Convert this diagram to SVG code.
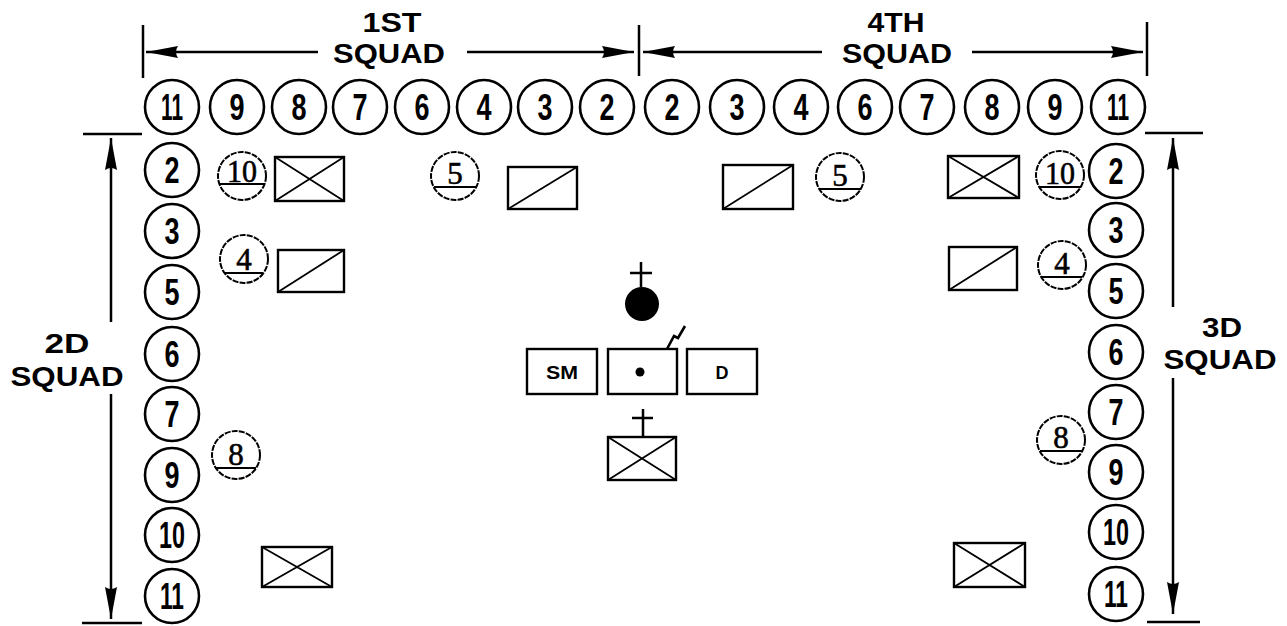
<svg xmlns="http://www.w3.org/2000/svg" width="1287" height="626" viewBox="0 0 1287 626">
<style>
.c{fill:#fff;stroke:#000;stroke-width:2.6}
.n{font-family:'Liberation Sans',Arial,sans-serif;font-weight:bold;font-size:36px;text-anchor:middle;fill:#000}
.dc{fill:#fff;stroke:#000;stroke-width:2;stroke-dasharray:6 1.2}
.s{font-family:'Liberation Serif','Times New Roman',serif;font-size:31px;text-anchor:middle;fill:#000;stroke:#000;stroke-width:0.6}
.u{stroke:#000;stroke-width:2.2}
.bx{fill:#fff;stroke:#000;stroke-width:2.4}
.d{stroke:#000;stroke-width:1.8;fill:none}
.lbl{font-family:'Liberation Sans',Arial,sans-serif;font-weight:bold;font-size:27px;text-anchor:middle;fill:#000}
.ln{stroke:#000;stroke-width:2.5;fill:none}
.sm{font-family:'Liberation Sans',Arial,sans-serif;font-weight:bold;font-size:18px;text-anchor:middle;fill:#000}
</style>
<defs>
<marker id="ah" markerUnits="userSpaceOnUse" markerWidth="34" markerHeight="14" refX="32" refY="7" orient="auto">
<path d="M0,1 L32,7 L0,13 Q4,7 0,1 z" fill="#000"/>
</marker>
</defs>
<rect width="1287" height="626" fill="#fff"/>

<g id="connectors">
<line class="ln" x1="143" y1="25" x2="143" y2="78"/>
<line class="ln" x1="639" y1="25" x2="639" y2="76"/>
<line class="ln" x1="1147" y1="22" x2="1147" y2="76"/>
<line class="ln" x1="318" y1="52" x2="146" y2="52" marker-end="url(#ah)"/>
<line class="ln" x1="467" y1="52" x2="634" y2="52" marker-end="url(#ah)"/>
<line class="ln" x1="822" y1="52" x2="643" y2="52" marker-end="url(#ah)"/>
<line class="ln" x1="972" y1="52" x2="1143" y2="52" marker-end="url(#ah)"/>
<line class="ln" x1="83" y1="134" x2="142" y2="134"/>
<line class="ln" x1="82" y1="623" x2="142" y2="623"/>
<line class="ln" x1="111" y1="322" x2="111" y2="138" marker-end="url(#ah)"/>
<line class="ln" x1="111" y1="394" x2="111" y2="619" marker-end="url(#ah)"/>
<line class="ln" x1="1145" y1="133" x2="1203" y2="133"/>
<line class="ln" x1="1147" y1="622" x2="1200" y2="622"/>
<line class="ln" x1="1173" y1="307" x2="1173" y2="138" marker-end="url(#ah)"/>
<line class="ln" x1="1173" y1="378" x2="1173" y2="614" marker-end="url(#ah)"/>
</g>

<g id="labels">
<text class="lbl" x="392" y="32" textLength="59" lengthAdjust="spacingAndGlyphs">1ST</text>
<text class="lbl" x="389" y="63" textLength="112" lengthAdjust="spacingAndGlyphs">SQUAD</text>
<text class="lbl" x="896" y="32" textLength="57" lengthAdjust="spacingAndGlyphs">4TH</text>
<text class="lbl" x="897" y="63" textLength="110" lengthAdjust="spacingAndGlyphs">SQUAD</text>
<text class="lbl" x="67" y="353" textLength="45" lengthAdjust="spacingAndGlyphs">2D</text>
<text class="lbl" x="67" y="386" textLength="113" lengthAdjust="spacingAndGlyphs">SQUAD</text>
<text class="lbl" x="1222" y="337" textLength="40" lengthAdjust="spacingAndGlyphs">3D</text>
<text class="lbl" x="1220" y="369" textLength="113" lengthAdjust="spacingAndGlyphs">SQUAD</text>
</g>

<g id="sq1-11"><circle class="c" cx="172" cy="107" r="27"/><text class="n" x="172" y="120" textLength="22" lengthAdjust="spacingAndGlyphs">11</text></g>
<g id="sq1-9"><circle class="c" cx="237" cy="107" r="27"/><text class="n" x="237" y="120" textLength="15" lengthAdjust="spacingAndGlyphs">9</text></g>
<g id="sq1-8"><circle class="c" cx="299" cy="107" r="27"/><text class="n" x="299" y="120" textLength="15" lengthAdjust="spacingAndGlyphs">8</text></g>
<g id="sq1-7"><circle class="c" cx="360" cy="107" r="27"/><text class="n" x="360" y="120" textLength="15" lengthAdjust="spacingAndGlyphs">7</text></g>
<g id="sq1-6"><circle class="c" cx="422" cy="107" r="27"/><text class="n" x="422" y="120" textLength="15" lengthAdjust="spacingAndGlyphs">6</text></g>
<g id="sq1-4"><circle class="c" cx="484" cy="107" r="27"/><text class="n" x="484" y="120" textLength="15" lengthAdjust="spacingAndGlyphs">4</text></g>
<g id="sq1-3"><circle class="c" cx="545" cy="107" r="27"/><text class="n" x="545" y="120" textLength="15" lengthAdjust="spacingAndGlyphs">3</text></g>
<g id="sq1-2"><circle class="c" cx="607" cy="107" r="27"/><text class="n" x="607" y="120" textLength="15" lengthAdjust="spacingAndGlyphs">2</text></g>

<g id="sq4-2"><circle class="c" cx="672" cy="107" r="27"/><text class="n" x="672" y="120" textLength="15" lengthAdjust="spacingAndGlyphs">2</text></g>
<g id="sq4-3"><circle class="c" cx="737" cy="107" r="27"/><text class="n" x="737" y="120" textLength="15" lengthAdjust="spacingAndGlyphs">3</text></g>
<g id="sq4-4"><circle class="c" cx="801" cy="107" r="27"/><text class="n" x="801" y="120" textLength="15" lengthAdjust="spacingAndGlyphs">4</text></g>
<g id="sq4-6"><circle class="c" cx="865" cy="107" r="27"/><text class="n" x="865" y="120" textLength="15" lengthAdjust="spacingAndGlyphs">6</text></g>
<g id="sq4-7"><circle class="c" cx="927" cy="107" r="27"/><text class="n" x="927" y="120" textLength="15" lengthAdjust="spacingAndGlyphs">7</text></g>
<g id="sq4-8"><circle class="c" cx="992" cy="107" r="27"/><text class="n" x="992" y="120" textLength="15" lengthAdjust="spacingAndGlyphs">8</text></g>
<g id="sq4-9"><circle class="c" cx="1055" cy="107" r="27"/><text class="n" x="1055" y="120" textLength="15" lengthAdjust="spacingAndGlyphs">9</text></g>
<g id="sq4-11"><circle class="c" cx="1118" cy="107" r="27"/><text class="n" x="1118" y="120" textLength="22" lengthAdjust="spacingAndGlyphs">11</text></g>

<g id="sq2-2"><circle class="c" cx="172" cy="170" r="27"/><text class="n" x="172" y="183" textLength="15" lengthAdjust="spacingAndGlyphs">2</text></g>
<g id="sq2-3"><circle class="c" cx="172" cy="231" r="27"/><text class="n" x="172" y="244" textLength="15" lengthAdjust="spacingAndGlyphs">3</text></g>
<g id="sq2-5"><circle class="c" cx="172" cy="292" r="27"/><text class="n" x="172" y="305" textLength="15" lengthAdjust="spacingAndGlyphs">5</text></g>
<g id="sq2-6"><circle class="c" cx="172" cy="354" r="27"/><text class="n" x="172" y="367" textLength="15" lengthAdjust="spacingAndGlyphs">6</text></g>
<g id="sq2-7"><circle class="c" cx="172" cy="414" r="27"/><text class="n" x="172" y="427" textLength="15" lengthAdjust="spacingAndGlyphs">7</text></g>
<g id="sq2-9"><circle class="c" cx="172" cy="475" r="27"/><text class="n" x="172" y="488" textLength="15" lengthAdjust="spacingAndGlyphs">9</text></g>
<g id="sq2-10"><circle class="c" cx="172" cy="535" r="27"/><text class="n" x="172" y="548" textLength="26" lengthAdjust="spacingAndGlyphs">10</text></g>
<g id="sq2-11"><circle class="c" cx="172" cy="596" r="27"/><text class="n" x="172" y="609" textLength="24" lengthAdjust="spacingAndGlyphs">11</text></g>

<g id="sq3-2"><circle class="c" cx="1116" cy="171" r="27"/><text class="n" x="1116" y="184" textLength="15" lengthAdjust="spacingAndGlyphs">2</text></g>
<g id="sq3-3"><circle class="c" cx="1116" cy="230" r="27"/><text class="n" x="1116" y="243" textLength="15" lengthAdjust="spacingAndGlyphs">3</text></g>
<g id="sq3-5"><circle class="c" cx="1116" cy="291" r="27"/><text class="n" x="1116" y="304" textLength="15" lengthAdjust="spacingAndGlyphs">5</text></g>
<g id="sq3-6"><circle class="c" cx="1116" cy="352" r="27"/><text class="n" x="1116" y="365" textLength="15" lengthAdjust="spacingAndGlyphs">6</text></g>
<g id="sq3-7"><circle class="c" cx="1116" cy="412" r="27"/><text class="n" x="1116" y="425" textLength="15" lengthAdjust="spacingAndGlyphs">7</text></g>
<g id="sq3-9"><circle class="c" cx="1116" cy="472" r="27"/><text class="n" x="1116" y="485" textLength="15" lengthAdjust="spacingAndGlyphs">9</text></g>
<g id="sq3-10"><circle class="c" cx="1116" cy="532" r="27"/><text class="n" x="1116" y="545" textLength="26" lengthAdjust="spacingAndGlyphs">10</text></g>
<g id="sq3-11"><circle class="c" cx="1116" cy="594" r="27"/><text class="n" x="1116" y="607" textLength="24" lengthAdjust="spacingAndGlyphs">11</text></g>

<g id="pos-l10"><circle class="dc" cx="242" cy="176" r="24"/><text class="s" x="242" y="182" textLength="30" lengthAdjust="spacingAndGlyphs">10</text><line class="u" x1="219" y1="184" x2="265" y2="184"/></g>
<g id="pos-l5"><circle class="dc" cx="455" cy="176" r="24"/><text class="s" x="455" y="184">5</text><line class="u" x1="434" y1="187" x2="476" y2="187"/></g>
<g id="pos-l4"><circle class="dc" cx="244" cy="259" r="24"/><text class="s" x="244" y="270">4</text><line class="u" x1="225" y1="273" x2="263" y2="273"/></g>
<g id="pos-l8"><circle class="dc" cx="236" cy="455" r="24"/><text class="s" x="236" y="465">8</text><line class="u" x1="216" y1="468" x2="256" y2="468"/></g>
<g id="pos-r5"><circle class="dc" cx="840" cy="177" r="24"/><text class="s" x="840" y="186">5</text><line class="u" x1="819" y1="189" x2="861" y2="189"/></g>
<g id="pos-r10"><circle class="dc" cx="1060" cy="175" r="24"/><text class="s" x="1060" y="184" textLength="30" lengthAdjust="spacingAndGlyphs">10</text><line class="u" x1="1039" y1="187" x2="1081" y2="187"/></g>
<g id="pos-r4"><circle class="dc" cx="1062" cy="265" r="24"/><text class="s" x="1062" y="274">4</text><line class="u" x1="1042" y1="277" x2="1082" y2="277"/></g>
<g id="pos-r8"><circle class="dc" cx="1061" cy="440" r="24"/><text class="s" x="1061" y="448">8</text><line class="u" x1="1040" y1="451" x2="1082" y2="451"/></g>

<g id="box-lx1"><rect class="bx" x="275" y="157" width="69" height="44"/><path class="d" d="M275,157 L344,201 M344,157 L275,201"/></g>
<g id="box-ls1"><rect class="bx" x="508" y="167" width="69" height="42"/><path class="d" d="M508,209 L577,167"/></g>
<g id="box-ls2"><rect class="bx" x="278" y="250" width="66" height="42"/><path class="d" d="M278,292 L344,250"/></g>
<g id="box-rs1"><rect class="bx" x="723" y="165" width="70" height="44"/><path class="d" d="M723,209 L793,165"/></g>
<g id="box-rx1"><rect class="bx" x="948" y="156" width="71" height="42"/><path class="d" d="M948,156 L1019,198 M1019,156 L948,198"/></g>
<g id="box-rs2"><rect class="bx" x="949" y="247" width="68" height="43"/><path class="d" d="M949,290 L1017,247"/></g>
<g id="box-lx2"><rect class="bx" x="262" y="547" width="70" height="40"/><path class="d" d="M262,547 L332,587 M332,547 L262,587"/></g>
<g id="box-rx2"><rect class="bx" x="954" y="543" width="71" height="44"/><path class="d" d="M954,543 L1025,587 M1025,543 L954,587"/></g>

<g id="leader"><path class="ln" d="M641,262 L641,287 M630,273 L652,273"/><circle cx="642" cy="304" r="17" fill="#000"/></g>
<g id="box-sm"><rect class="bx" x="527" y="349" width="70" height="45"/><text class="sm" x="562" y="379" textLength="32" lengthAdjust="spacingAndGlyphs">SM</text></g>
<g id="box-center"><rect class="bx" x="608" y="349" width="69" height="45"/><circle cx="640" cy="372" r="4.5" fill="#000"/><polyline points="667,349 674,336 678,338 685,326" fill="none" stroke="#000" stroke-width="2.6" stroke-linejoin="miter"/></g>
<g id="box-d"><rect class="bx" x="687" y="349" width="70" height="45"/><text class="sm" x="722" y="379">D</text></g>
<g id="box-cx"><path class="ln" d="M643,409 L643,437 M632,418 L653,418"/><rect class="bx" x="608" y="437" width="68" height="43"/><path class="d" d="M608,437 L676,480 M676,437 L608,480"/></g>
</svg>
